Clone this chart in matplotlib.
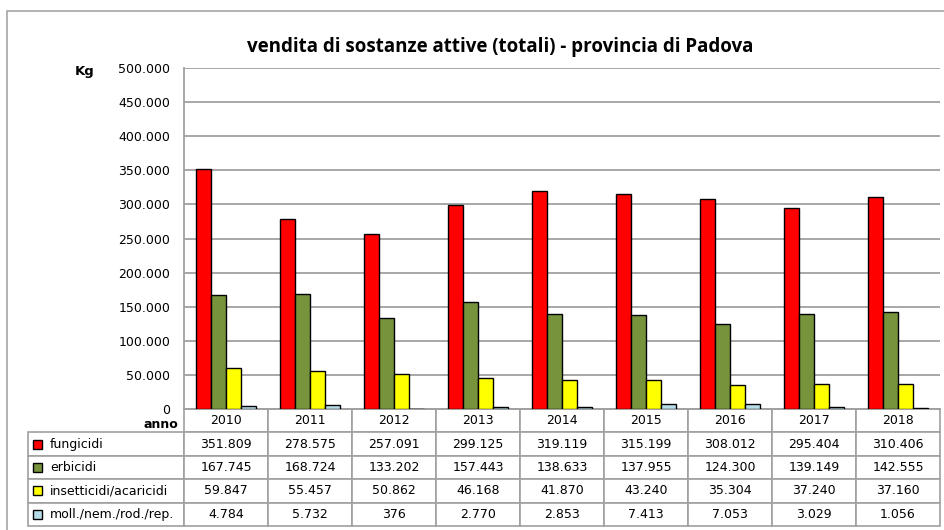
import matplotlib
matplotlib.use("Agg")
import matplotlib.pyplot as plt
from matplotlib.patches import Rectangle
from matplotlib.table import Table
from matplotlib.ticker import FuncFormatter

years = ["2010", "2011", "2012", "2013", "2014", "2015", "2016", "2017", "2018"]
fungicidi = [351809, 278575, 257091, 299125, 319119, 315199, 308012, 295404, 310406]
erbicidi = [167745, 168724, 133202, 157443, 138633, 137955, 124300, 139149, 142555]
insetticidi = [59847, 55457, 50862, 46168, 41870, 43240, 35304, 37240, 37160]
molluschicidi = [4784, 5732, 376, 2770, 2853, 7413, 7053, 3029, 1056]

labels = ["fungicidi", "erbicidi", "insetticidi/acaricidi", "moll./nem./rod./rep."]
colors = ["#ff0000", "#77933c", "#ffff00", "#b7dde8"]
series = [fungicidi, erbicidi, insetticidi, molluschicidi]

W, H = 944, 530
grid_col = "#a0a0a0"


def fmt(v):
    return f"{v:,}".replace(",", ".")


fig = plt.figure(figsize=(W / 100, H / 100), dpi=100)
ax = fig.add_axes([184 / W, (H - 409) / H, 756 / W, 341 / H])

# outer chart frame
fig.patches.append(Rectangle((7 / W, -0.05), 1.2, (H - 11) / H + 0.05,
                             transform=fig.transFigure, fill=False,
                             edgecolor="#a6a6a6", lw=1.2))

bw = 0.18
for k, (vals, col) in enumerate(zip(series, colors)):
    xs = [i + (k - 1.5) * bw for i in range(len(years))]
    ax.bar(xs, vals, width=bw, color=col, edgecolor="black", lw=1, zorder=3)

ax.set_xlim(-0.5, len(years) - 0.5)
ax.set_ylim(0, 500000)
ax.set_yticks(range(0, 500001, 50000))
ax.yaxis.set_major_formatter(FuncFormatter(lambda v, p: fmt(int(v))))
ax.set_xticks([])
ax.tick_params(axis="y", length=0, pad=10, labelsize=9)
ax.yaxis.grid(True, color=grid_col, lw=1.3)
ax.set_axisbelow(True)
for s in ["top", "right"]:
    ax.spines[s].set_visible(False)
for s in ["left", "bottom"]:
    ax.spines[s].set_color(grid_col)
    ax.spines[s].set_linewidth(1.3)

fig.text(500 / W, (H - 47) / H, "vendita di sostanze attive (totali) - provincia di Padova",
         ha="center", va="center", fontsize=13.5, fontweight="bold", family="Open Sans")
fig.text(85 / W, (H - 72) / H, "Kg", ha="center", va="center", fontsize=9.5, fontweight="bold")
fig.text(178 / W, (H - 424) / H, "anno", ha="right", va="center", fontsize=9, fontweight="bold")

# data table under the plot (widths/heights in axes units)
col_w = 1 / len(years)
lab_w = 156 / 756
row_h = 23.4 / 341
tab = Table(ax, loc="bottom")
for j, y in enumerate(years):
    tab.add_cell(0, j, col_w, row_h, text=y, loc="center")
for i, (lab, vals) in enumerate(zip(labels, series), start=1):
    c = tab.add_cell(i, -1, lab_w, row_h, text=lab, loc="left")
    c.PAD = 0.14
    for j, v in enumerate(vals):
        tab.add_cell(i, j, col_w, row_h, text=fmt(v), loc="center")
tab.auto_set_font_size(False)
tab.set_fontsize(9)
for cell in tab.get_celld().values():
    cell.set_edgecolor(grid_col)
    cell.set_linewidth(1.2)
ax.add_table(tab)

# legend keys in the table row labels
for i, col in enumerate(colors, start=1):
    yc = -(i + 0.5) * row_h
    ax.add_patch(Rectangle(((33 - 184) / 756, yc - 4.5 / 341), 9 / 756, 9 / 341,
                           transform=ax.transAxes, clip_on=False,
                           facecolor=col, edgecolor="black", lw=1))

fig.savefig("out.png", dpi=100)
